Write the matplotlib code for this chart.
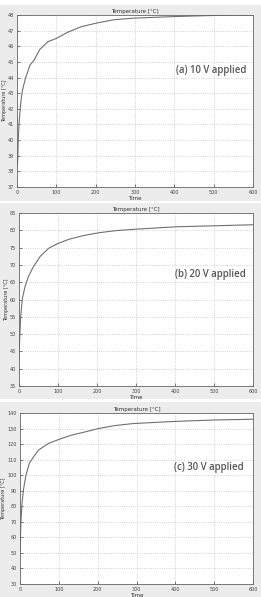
import matplotlib
matplotlib.use('Agg')
import matplotlib.pyplot as plt
import matplotlib.patches as patches

# time axis and temperature readings for each applied voltage
time_a = [0, 1.7, 3.4, 5.9, 10, 14, 22, 33, 43, 58, 79, 100, 129, 163, 205, 247, 297, 400, 500, 600]
temp_a = [38.3, 38.6, 40.2, 41.3, 42.5, 43.2, 44.0, 44.8, 45.1, 45.8, 46.3, 46.5, 46.9, 47.25, 47.5, 47.7, 47.8, 47.9, 47.97, 48.0]

time_b = [0, 1, 4.3, 8.6, 15.5, 24, 37, 54, 76, 100, 128, 162, 205, 248, 296, 400, 500, 600]
temp_b = [43.5, 46.4, 55.0, 60.3, 63.7, 66.6, 69.5, 72.4, 74.8, 76.2, 77.4, 78.4, 79.3, 79.9, 80.3, 81.0, 81.3, 81.6]

time_c = [0, 2.6, 5.1, 9.4, 15.4, 24, 35, 48, 74, 100, 133, 159, 202, 244, 291, 400, 500, 600]
temp_c = [52.0, 71.2, 81.9, 91.5, 100.1, 107.6, 111.9, 116.2, 120.5, 123.0, 125.8, 127.3, 130.0, 131.9, 133.2, 134.6, 135.5, 136.0]

labels = ['(a) 10 V applied', '(b) 20 V applied', '(c) 30 V applied']
ylims = [(37, 48), (35, 85), (30, 140)]
ysteps = [1, 5, 10]

W, H = 261, 597
fig = plt.figure(figsize=(W / 100, H / 100), dpi=100)
fig.patch.set_facecolor('white')

# grey panel backgrounds (top, bottom in pixels)
panels = [(5, 201), (203, 399), (402, 597)]
for top, bot in panels:
    fig.patches.append(patches.Rectangle((0, 1 - bot / H), 1, (bot - top) / H,
                                         transform=fig.transFigure, facecolor='#ececec',
                                         edgecolor='none', zorder=-5))

# axes boxes: left, right, top, bottom in pixels
boxes = [(17, 253, 15, 187), (19, 253, 213, 386), (20, 253, 413, 584)]
text_pos = [(0.822, 0.68), (0.816, 0.647), (0.81, 0.684)]
series = [(time_a, temp_a), (time_b, temp_b), (time_c, temp_c)]

for i in range(3):
    l, r, t, b = boxes[i]
    ax = fig.add_axes([l / W, 1 - b / H, (r - l) / W, (b - t) / H])
    ax.set_facecolor('white')
    x, y = series[i]
    ax.plot(x, y, color='#707070', linewidth=0.8)
    ax.set_xlim(0, 600)
    ax.set_ylim(*ylims[i])
    ax.set_xticks(range(0, 601, 100))
    lo, hi = ylims[i]
    ax.set_yticks(range(lo, hi + 1, ysteps[i]))
    ax.grid(True, color='#c4c4c4', linestyle=':', linewidth=0.6)
    ax.tick_params(labelsize=3.5, length=2, width=0.5, direction='in', pad=2, colors='#444444')
    for s in ax.spines.values():
        s.set_color('#666666')
        s.set_linewidth(0.6)
    ax.set_title('Temperature [°C]', fontsize=4, pad=1.5, color='#333333')
    ax.set_xlabel('Time', fontsize=4, labelpad=1, color='#333333')
    ax.set_ylabel('Temperature [°C]', fontsize=3.5, labelpad=1, color='#333333')
    tx, ty = text_pos[i]
    ax.text(tx, ty, labels[i], transform=ax.transAxes, fontsize=6.9,
            family='Open Sans', fontweight='semibold', color='#555555',
            ha='center', va='center')

fig.savefig('out.png', dpi=100)
